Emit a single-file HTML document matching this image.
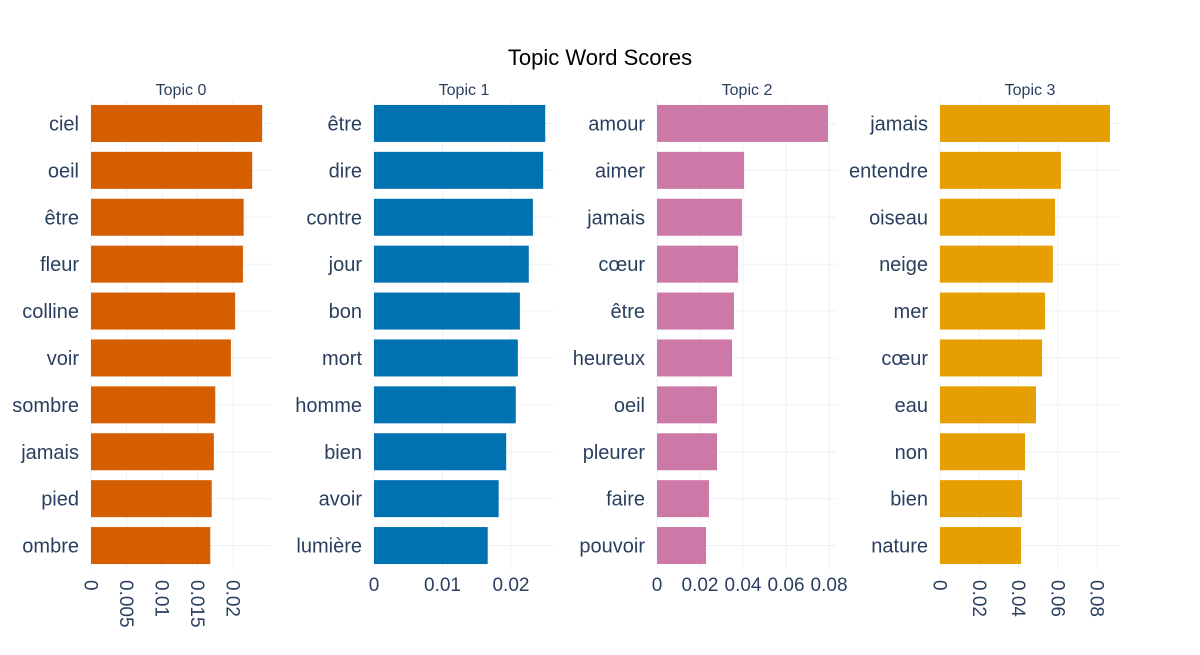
<!DOCTYPE html>
<html><head><meta charset="utf-8"><style>
body{margin:0;background:#fff;font-family:"Liberation Sans",sans-serif}
</style></head><body>
<svg id="chart" width="1200" height="650" xmlns="http://www.w3.org/2000/svg" font-family="Liberation Sans, sans-serif">
<rect width="1200" height="650" fill="#fff"/>
<text x="600" y="65" text-anchor="middle" font-size="22" fill="#000">Topic Word Scores</text>
</svg>
<script>
const topicTitles = ["Topic 0","Topic 1","Topic 2","Topic 3"];
const words0 = ["ciel","oeil","être","fleur","colline","voir","sombre","jamais","pied","ombre"];
const scores0 = [0.0241,0.0227,0.0215,0.0214,0.0203,0.0197,0.0175,0.0173,0.0170,0.0168];
const words1 = ["être","dire","contre","jour","bon","mort","homme","bien","avoir","lumière"];
const scores1 = [0.0250,0.0247,0.0232,0.0226,0.0213,0.0210,0.0207,0.0193,0.0182,0.0166];
const words2 = ["amour","aimer","jamais","cœur","être","heureux","oeil","pleurer","faire","pouvoir"];
const scores2 = [0.0795,0.0405,0.0395,0.0377,0.0358,0.0349,0.0279,0.0279,0.0242,0.0228];
const words3 = ["jamais","entendre","oiseau","neige","mer","cœur","eau","non","bien","nature"];
const scores3 = [0.0866,0.0616,0.0586,0.0575,0.0535,0.0520,0.0489,0.0433,0.0418,0.0413];
const ticks0 = [0,0.005,0.01,0.015,0.02];
const ticks1 = [0,0.01,0.02];
const ticks2 = [0,0.02,0.04,0.06,0.08];
const ticks3 = [0,0.02,0.04,0.06,0.08];
const tickLabels0 = ["0","0.005","0.01","0.015","0.02"];
const tickLabels1 = ["0","0.01","0.02"];
const tickLabels2 = ["0","0.02","0.04","0.06","0.08"];
const tickLabels3 = ["0","0.02","0.04","0.06","0.08"];

const NS="http://www.w3.org/2000/svg";
const svg=document.getElementById('chart');
function mk(tag,attrs,parent){const e=document.createElementNS(NS,tag);for(const k in attrs)e.setAttribute(k,attrs[k]);(parent||svg).appendChild(e);return e;}
const panels=[
 {x0:91,x1:271,max:0.02535,words:words0,scores:scores0,ticks:ticks0,labels:tickLabels0,color:"#d55e00",rot:true},
 {x0:374,x1:554,max:0.02628,words:words1,scores:scores1,ticks:ticks1,labels:tickLabels1,color:"#0072b2",rot:false},
 {x0:657,x1:837,max:0.0837,words:words2,scores:scores2,ticks:ticks2,labels:tickLabels2,color:"#cc79a7",rot:false},
 {x0:940,x1:1120,max:0.0917,words:words3,scores:scores3,ticks:ticks3,labels:tickLabels3,color:"#e69f00",rot:true}
];
const yTop=100,yBot=569;
panels.forEach((p,pi)=>{
  const xs=v=>p.x0+(p.x1-p.x0)*v/p.max;
  const band=(yBot-yTop)/p.words.length;
  const yc=i=>yTop+band*(i+0.5);
  const g=mk('g',{});
  
  
  const t=mk('text',{x:(p.x0+p.x1)/2,y:95,'text-anchor':'middle','font-size':16,fill:'#2a3f5f'},g);
  t.textContent=topicTitles[pi];
  
  
  p.ticks.forEach((v,i)=>{
    const l=mk('line',{x1:xs(v),x2:xs(v),y1:yTop,y2:yBot,stroke:'#ebf0f8','stroke-width':1},g);
    
    
    let tl;
    if(p.rot){
      tl=mk('text',{x:0,y:0,'font-size':19,fill:'#2a3f5f',transform:`translate(${xs(v)-6.5},580) rotate(90)`},g);
    } else {
      tl=mk('text',{x:xs(v),y:591,'text-anchor':'middle','font-size':19,fill:'#2a3f5f'},g);
    }
    tl.textContent=p.labels[i];
    
    
  });
  p.words.forEach((w,i)=>{
    const l=mk('line',{x1:p.x0,x2:p.x1,y1:yc(i),y2:yc(i),stroke:'#ebf0f8','stroke-width':1},g);
    
    
  });
  p.words.forEach((w,i)=>{
    const r=mk('rect',{x:xs(0),y:yc(i)-18.5,width:xs(p.scores[i])-xs(0),height:37,fill:p.color},g);
    
    
    const tx=mk('text',{x:p.x0-12,y:yc(i)+7,'text-anchor':'end','font-size':20,fill:'#2a3f5f'},g);
    tx.textContent=w;
    
    
  });
});
</script>
</body></html>
